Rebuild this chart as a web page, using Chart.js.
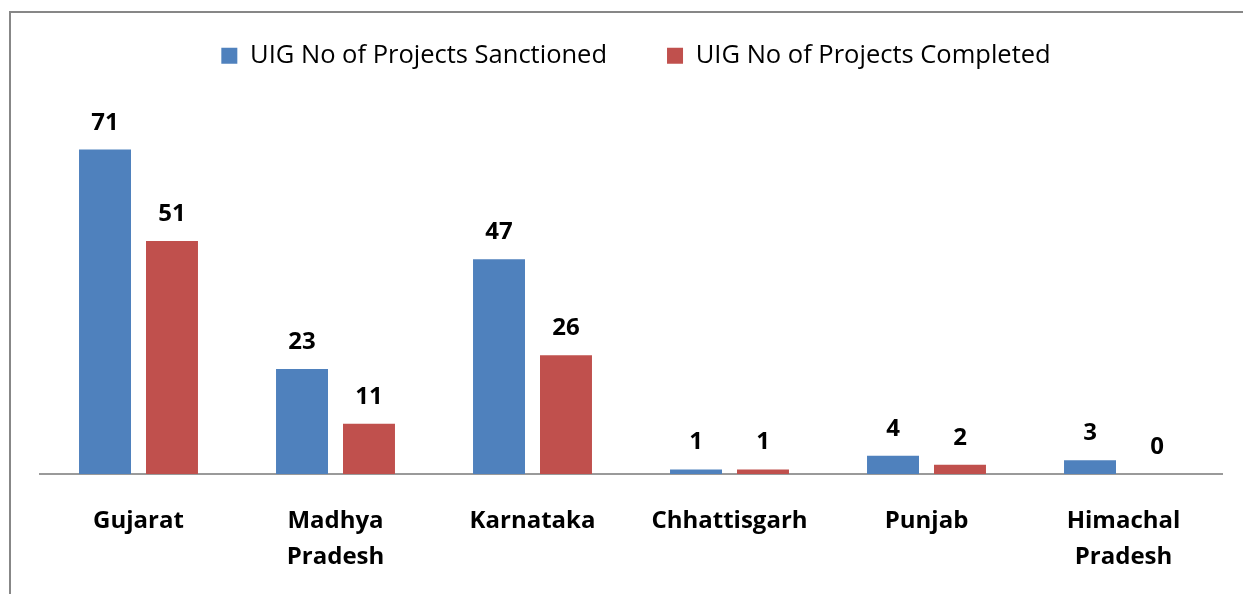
<!DOCTYPE html>
<html>
<head>
<meta charset="utf-8">
<script src="https://cdn.jsdelivr.net/npm/chart.js@4/dist/chart.umd.min.js"></script>
<style>
  html, body { margin: 0; padding: 0; background: #ffffff; overflow: hidden; width: 1243px; height: 594px; }
  #frame { position: absolute; left: 9px; top: 11px; width: 1400px; height: 800px;
           border-left: 2px solid #878787; border-top: 2px solid #878787; box-sizing: border-box; }
  #c { position: absolute; left: 11px; top: 0px; }
</style>
</head>
<body>
<div id="frame"></div>
<canvas id="c" width="1250" height="594"></canvas>
<script>
const categories = ['Gujarat', ['Madhya', 'Pradesh'], 'Karnataka', 'Chhattisgarh', 'Punjab', ['Himachal', 'Pradesh']];
const sanctioned = [71, 23, 47, 1, 4, 3];
const completed = [51, 11, 26, 1, 2, 0];
const seriesNames = ['UIG No of Projects Sanctioned', 'UIG No of Projects Completed'];

Chart.defaults.font.family = '"Open Sans", "DejaVu Sans", sans-serif';
Chart.defaults.color = '#000000';

const legendSpacer = {
  id: 'legendSpacer',
  beforeInit(chart) {
    const orig = chart.legend.fit;
    chart.legend.fit = function () { orig.call(this); this.height += 30; };
  },
  afterLayout(chart) {
    chart.legend.left += 5;
    chart.legend.right += 5;
  }
};

const valueLabels = {
  id: 'valueLabels',
  afterDatasetsDraw(chart) {
    const ctx = chart.ctx;
    ctx.save();
    ctx.font = 'bold 24px "Open Sans", "DejaVu Sans", sans-serif';
    ctx.fillStyle = '#000000';
    ctx.textAlign = 'center';
    ctx.textBaseline = 'alphabetic';
    chart.data.datasets.forEach((ds, i) => {
      chart.getDatasetMeta(i).data.forEach((bar, j) => {
        ctx.fillText(String(ds.data[j]), bar.x, bar.y - 20);
      });
    });
    ctx.restore();
  }
};

new Chart(document.getElementById('c'), {
  type: 'bar',
  data: {
    labels: categories,
    datasets: [
      { label: seriesNames[0], data: sanctioned, backgroundColor: '#4F81BD',
        barPercentage: 0.776, categoryPercentage: 0.68 },
      { label: seriesNames[1], data: completed, backgroundColor: '#C0504D',
        barPercentage: 0.776, categoryPercentage: 0.68 }
    ]
  },
  options: {
    responsive: false,
    animation: false,
    layout: { padding: { left: 29, right: 39, top: -17, bottom: -10 } },
    plugins: {
      legend: {
        position: 'top',
        labels: { boxWidth: 16, boxHeight: 16, padding: 60, font: { size: 25.5 }, color: '#000000' }
      },
      tooltip: { enabled: false }
    },
    scales: {
      x: {
        grid: { display: false, drawTicks: false },
        border: { display: true, color: '#9a9a9a', width: 2 },
        ticks: { padding: 29, font: { size: 24, weight: 'bold', lineHeight: 1.5 }, color: '#000000', maxRotation: 0 }
      },
      y: { display: false, min: 0, max: 80 }
    }
  },
  plugins: [legendSpacer, valueLabels]
});
</script>
</body>
</html>
